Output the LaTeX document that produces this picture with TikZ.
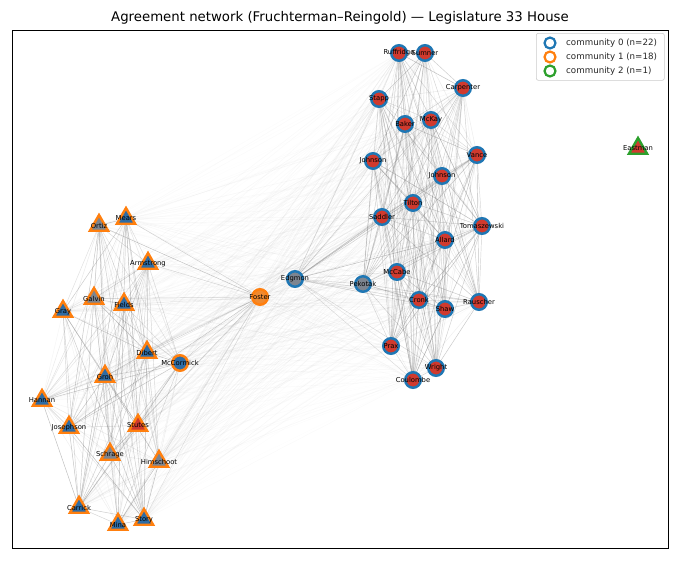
\documentclass[tikz,border=0pt]{standalone}
\usepackage{fontspec}
\setmainfont{DejaVu Sans}
\usetikzlibrary{shapes.geometric}
\pgfdeclarelayer{bg}
\pgfsetlayers{bg,main}
\definecolor{cblue}{HTML}{1F77B4}
\definecolor{corange}{HTML}{FF7F0E}
\definecolor{cgreen}{HTML}{2CA02C}
\definecolor{fred}{HTML}{D03A2E}
\definecolor{fblue}{HTML}{2E6CA4}
\definecolor{fgray}{HTML}{7D8590}
\definecolor{forange}{HTML}{F08A30}
\tikzset{
  circ/.style={circle, draw=cblue, line width=2.5pt, minimum size=15.5pt, inner sep=0pt},
  circo/.style={circle, draw=corange, line width=2.5pt, minimum size=15.5pt, inner sep=0pt},
  tri/.style={regular polygon, regular polygon sides=3, draw=corange, line width=2.4pt, minimum size=21pt, inner sep=0pt, yshift=-1.5pt},
  trig/.style={tri, draw=cgreen},
  lbl/.style={font=\fontsize{6.8}{7.5}\selectfont, text=black, inner sep=0pt},
  edge/.style={draw=black!55, line width=0.45pt},
  leg/.style={circle, draw=#1, line width=2.2pt, minimum size=11pt, inner sep=0pt},
  legtext/.style={anchor=west, font=\fontsize{8.7}{10}\selectfont, text=black!85, inner sep=0pt}
}
\begin{document}
\begin{tikzpicture}[x=1pt,y=-1pt]
\useasboundingbox (0,0) rectangle (680,560);
\node (title) at (340,18) {\fontsize{13.3}{15}\selectfont Agreement network (Fruchterman–Reingold) — Legislature 33 House};
\draw[line width=0.8pt] (12,30) rectangle (668,548);

% community 0
\node[circ, fill=fred, label={[lbl]center:Ruffridge}] (ruffridge) at (399,53) {};
\node[circ, fill=fred, label={[lbl]center:Sumner}] (sumner) at (425,53) {};
\node[circ, fill=fred, label={[lbl]center:Carpenter}] (carpenter) at (463,88) {};
\node[circ, fill=fred, label={[lbl]center:Stapp}] (stapp) at (379,99) {};
\node[circ, fill=fred, label={[lbl]center:Baker}] (baker) at (405,124) {};
\node[circ, fill=fred, label={[lbl]center:McKay}] (mckay) at (431,120) {};
\node[circ, fill=fred, label={[lbl]center:Vance}] (vance) at (477,155) {};
\node[circ, fill=fred, label={[lbl]center:Johnson}] (johnsonA) at (373,161) {};
\node[circ, fill=fred, label={[lbl]center:Johnson}] (johnsonB) at (442,176) {};
\node[circ, fill=fred, label={[lbl]center:Tilton}] (tilton) at (413,203) {};
\node[circ, fill=fred, label={[lbl]center:Saddler}] (saddler) at (382,217) {};
\node[circ, fill=fred, label={[lbl]center:Tomaszewski}] (tomaszewski) at (482,226) {};
\node[circ, fill=fred, label={[lbl]center:Allard}] (allard) at (445,240) {};
\node[circ, fill=fred, label={[lbl]center:McCabe}] (mccabe) at (397,272) {};
\node[circ, fill=fgray, label={[lbl]center:Pekotak}] (pekotak) at (363,284) {};
\node[circ, fill=fred, label={[lbl]center:Cronk}] (cronk) at (419,300) {};
\node[circ, fill=fred, label={[lbl]center:Shaw}] (shaw) at (445,309) {};
\node[circ, fill=fred, label={[lbl]center:Rauscher}] (rauscher) at (479,302) {};
\node[circ, fill=fred, label={[lbl]center:Prax}] (prax) at (391,346) {};
\node[circ, fill=fred, label={[lbl]center:Wright}] (wright) at (436,368) {};
\node[circ, fill=fred, label={[lbl]center:Coulombe}] (coulombe) at (413,380) {};
\node[circ, fill=fgray, label={[lbl]center:Edgmon}] (edgmon) at (295,279) {};

% community 1
\node[circo, fill=forange, label={[lbl]center:Foster}] (foster) at (260,297) {};
\node[circo, fill=fblue, label={[lbl]center:McCormick}] (mccormick) at (180,363) {};
\node[tri, fill=fblue, label={[lbl]center:Mears}] (mears) at (126,217) {};
\node[tri, fill=fgray, label={[lbl]center:Ortiz}] (ortiz) at (99,224) {};
\node[tri, fill=fblue, label={[lbl]center:Armstrong}] (armstrong) at (148,262) {};
\node[tri, fill=fgray, label={[lbl]center:Galvin}] (galvin) at (94,297) {};
\node[tri, fill=fblue, label={[lbl]center:Fields}] (fields) at (124,303) {};
\node[tri, fill=fblue, label={[lbl]center:Gray}] (gray) at (63,310) {};
\node[tri, fill=fblue, label={[lbl]center:Dibert}] (dibert) at (147,351) {};
\node[tri, fill=fblue, label={[lbl]center:Groh}] (groh) at (105,375) {};
\node[tri, fill=fblue, label={[lbl]center:Hannan}] (hannan) at (42,399) {};
\node[tri, fill=fblue, label={[lbl]center:Josephson}] (josephson) at (69,426) {};
\node[tri, fill=fred, label={[lbl]center:Stutes}] (stutes) at (138,424) {};
\node[tri, fill=fgray, label={[lbl]center:Schrage}] (schrage) at (110,453) {};
\node[tri, fill=fgray, label={[lbl]center:Himschoot}] (himschoot) at (159,460) {};
\node[tri, fill=fblue, label={[lbl]center:Carrick}] (carrick) at (79,506) {};
\node[tri, fill=fblue, label={[lbl]center:Story}] (story) at (144,518) {};
\node[tri, fill=fblue, label={[lbl]center:Mina}] (mina) at (118,523) {};

% community 2
\node[trig, fill=fred, label={[lbl]center:Eastman}] (eastman) at (638,147) {};

\def\Rlist{ruffridge,sumner,carpenter,stapp,baker,mckay,vance,johnsonA,johnsonB,tilton,saddler,tomaszewski,allard,mccabe,pekotak,cronk,shaw,rauscher,prax,wright,coulombe,edgmon}
\def\Llist{foster,mccormick,mears,ortiz,armstrong,galvin,fields,gray,dibert,groh,hannan,josephson,stutes,schrage,himschoot,carrick,story,mina}

\begin{pgfonlayer}{bg}
\fill[white] (0,0) rectangle (680,560);
\pgfmathsetseed{11}
\foreach \a [count=\i] in \Rlist {
  \foreach \b [count=\j] in \Rlist {
    \ifnum\j>\i
      \pgfmathsetmacro\op{0.06+0.42*rnd}
      \draw[edge, draw opacity=\op] (\a.center) -- (\b.center);
    \fi
  }
}
\foreach \a [count=\i] in \Llist {
  \foreach \b [count=\j] in \Llist {
    \ifnum\j>\i
      \pgfmathsetmacro\op{0.06+0.42*rnd}
      \draw[edge, draw opacity=\op] (\a.center) -- (\b.center);
    \fi
  }
}
\foreach \a in \Llist {
  \foreach \b in \Rlist {
    \pgfmathsetmacro\op{0.065*rnd}
    \draw[edge, draw opacity=\op] (\a.center) -- (\b.center);
  }
}
\end{pgfonlayer}

% legend
\node[draw=black!20, fill=white, rounded corners=2pt, line width=0.6pt, minimum width=128pt, minimum height=47pt, anchor=north west, inner sep=0pt] (legend) at (536,33) {};
\node[leg=cblue] (lg0) at (550,43) {};
\node[legtext] (lt0) at (566,43) {community 0 (n=22)};
\node[leg=corange] (lg1) at (550,57) {};
\node[legtext] (lt1) at (566,57) {community 1 (n=18)};
\node[leg=cgreen] (lg2) at (550,71) {};
\node[legtext] (lt2) at (566,71) {community 2 (n=1)};
\end{tikzpicture}
\end{document}
